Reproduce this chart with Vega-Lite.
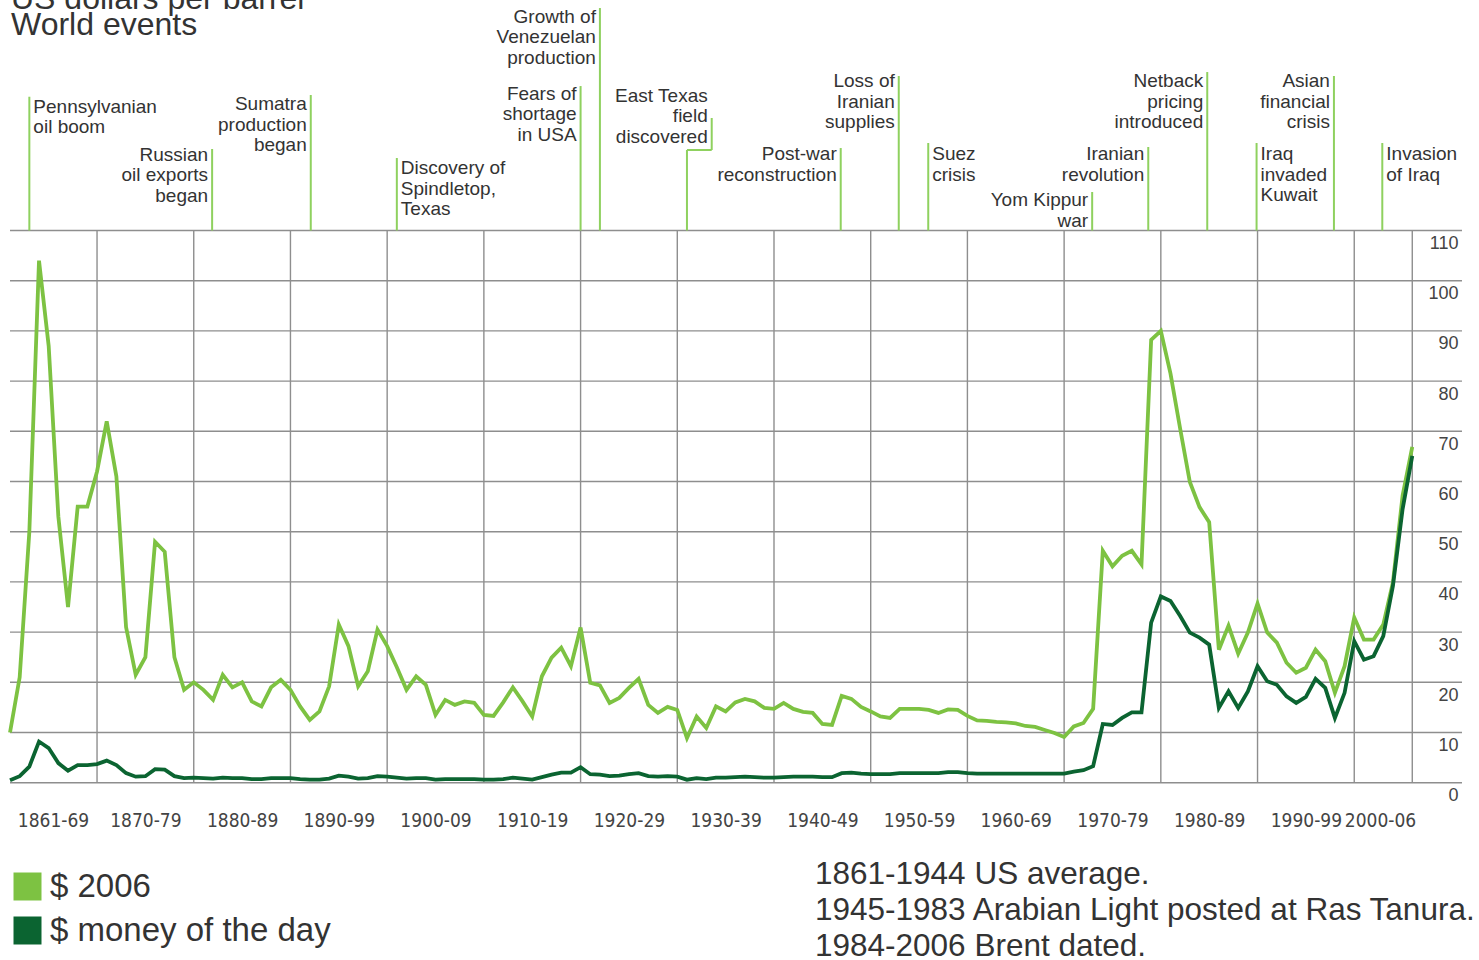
{
  "$schema": "https://vega.github.io/schema/vega-lite/v6.json",
  "width": 1469,
  "height": 960,
  "autosize": {"type": "none"},
  "padding": {"left": 10, "top": 0, "right": 0, "bottom": 0},
  "background": "white",
  "config": {"view": {"stroke": null}, "font": "Liberation Sans"},
  "datasets": {
    "prices": [
      {"year":1861,"real":10,"nominal":0.5},{"year":1862,"real":21,"nominal":1.3},{"year":1863,"real":50,"nominal":3.2},{"year":1864,"real":104,"nominal":8.2},{"year":1865,"real":87,"nominal":6.9},{"year":1866,"real":53,"nominal":3.9},{"year":1867,"real":35,"nominal":2.4},{"year":1868,"real":55,"nominal":3.5},{"year":1869,"real":55,"nominal":3.5},
      {"year":1870,"real":62,"nominal":3.7},{"year":1871,"real":72,"nominal":4.4},{"year":1872,"real":61,"nominal":3.5},{"year":1873,"real":31,"nominal":1.9},{"year":1874,"real":21.5,"nominal":1.2},{"year":1875,"real":25,"nominal":1.3},{"year":1876,"real":48,"nominal":2.7},{"year":1877,"real":46,"nominal":2.6},{"year":1878,"real":25,"nominal":1.3},{"year":1879,"real":18.5,"nominal":0.9},
      {"year":1880,"real":20,"nominal":1.0},{"year":1881,"real":18.5,"nominal":0.9},{"year":1882,"real":16.5,"nominal":0.8},{"year":1883,"real":21.5,"nominal":1.0},{"year":1884,"real":19,"nominal":0.9},{"year":1885,"real":20,"nominal":0.9},{"year":1886,"real":16.2,"nominal":0.7},{"year":1887,"real":15.2,"nominal":0.7},{"year":1888,"real":19,"nominal":0.9},{"year":1889,"real":20.5,"nominal":0.9},
      {"year":1890,"real":18.5,"nominal":0.9},{"year":1891,"real":15.2,"nominal":0.7},{"year":1892,"real":12.5,"nominal":0.6},{"year":1893,"real":14.2,"nominal":0.6},{"year":1894,"real":19.2,"nominal":0.8},{"year":1895,"real":31.5,"nominal":1.4},{"year":1896,"real":27.2,"nominal":1.2},{"year":1897,"real":19.2,"nominal":0.8},{"year":1898,"real":22.2,"nominal":0.9},{"year":1899,"real":30.5,"nominal":1.3},
      {"year":1900,"real":27.2,"nominal":1.2},{"year":1901,"real":23,"nominal":1.0},{"year":1902,"real":18.5,"nominal":0.8},{"year":1903,"real":21.2,"nominal":0.9},{"year":1904,"real":19.5,"nominal":0.9},{"year":1905,"real":13.5,"nominal":0.6},{"year":1906,"real":16.5,"nominal":0.7},{"year":1907,"real":15.5,"nominal":0.7},{"year":1908,"real":16.2,"nominal":0.7},{"year":1909,"real":15.9,"nominal":0.7},
      {"year":1910,"real":13.5,"nominal":0.6},{"year":1911,"real":13.3,"nominal":0.6},{"year":1912,"real":16,"nominal":0.7},{"year":1913,"real":19,"nominal":1.0},{"year":1914,"real":16.2,"nominal":0.8},{"year":1915,"real":13.2,"nominal":0.6},{"year":1916,"real":21.2,"nominal":1.1},{"year":1917,"real":24.9,"nominal":1.6},{"year":1918,"real":26.9,"nominal":2.0},{"year":1919,"real":23.2,"nominal":2.0},
      {"year":1920,"real":30.9,"nominal":3.1},{"year":1921,"real":19.9,"nominal":1.7},{"year":1922,"real":19.4,"nominal":1.6},{"year":1923,"real":15.9,"nominal":1.3},{"year":1924,"real":16.9,"nominal":1.4},{"year":1925,"real":18.9,"nominal":1.7},{"year":1926,"real":20.7,"nominal":1.9},{"year":1927,"real":15.5,"nominal":1.3},{"year":1928,"real":13.9,"nominal":1.2},{"year":1929,"real":15.1,"nominal":1.3},
      {"year":1930,"real":14.5,"nominal":1.2},{"year":1931,"real":8.9,"nominal":0.6},{"year":1932,"real":13.2,"nominal":0.9},{"year":1933,"real":10.9,"nominal":0.7},{"year":1934,"real":15.2,"nominal":1.0},{"year":1935,"real":14.2,"nominal":1.0},{"year":1936,"real":16,"nominal":1.1},{"year":1937,"real":16.7,"nominal":1.2},{"year":1938,"real":16.2,"nominal":1.1},{"year":1939,"real":14.9,"nominal":1.0},
      {"year":1940,"real":14.7,"nominal":1.0},{"year":1941,"real":15.9,"nominal":1.1},{"year":1942,"real":14.7,"nominal":1.2},{"year":1943,"real":14.1,"nominal":1.2},{"year":1944,"real":13.9,"nominal":1.2},{"year":1945,"real":11.7,"nominal":1.1},{"year":1946,"real":11.5,"nominal":1.1},{"year":1947,"real":17.3,"nominal":1.9},{"year":1948,"real":16.7,"nominal":2.0},{"year":1949,"real":15.1,"nominal":1.8},
      {"year":1950,"real":14.2,"nominal":1.7},{"year":1951,"real":13.2,"nominal":1.7},{"year":1952,"real":12.9,"nominal":1.7},{"year":1953,"real":14.7,"nominal":1.9},{"year":1954,"real":14.7,"nominal":1.9},{"year":1955,"real":14.7,"nominal":1.9},{"year":1956,"real":14.5,"nominal":1.9},{"year":1957,"real":13.9,"nominal":1.9},{"year":1958,"real":14.6,"nominal":2.1},{"year":1959,"real":14.5,"nominal":2.1},
      {"year":1960,"real":13.3,"nominal":1.9},{"year":1961,"real":12.4,"nominal":1.8},{"year":1962,"real":12.3,"nominal":1.8},{"year":1963,"real":12.1,"nominal":1.8},{"year":1964,"real":12,"nominal":1.8},{"year":1965,"real":11.8,"nominal":1.8},{"year":1966,"real":11.3,"nominal":1.8},{"year":1967,"real":11.1,"nominal":1.8},{"year":1968,"real":10.5,"nominal":1.8},{"year":1969,"real":9.9,"nominal":1.8},
      {"year":1970,"real":9.1,"nominal":1.8},{"year":1971,"real":11.2,"nominal":2.2},{"year":1972,"real":11.9,"nominal":2.5},{"year":1973,"real":14.7,"nominal":3.3},{"year":1974,"real":46.2,"nominal":11.7},{"year":1975,"real":43.1,"nominal":11.5},{"year":1976,"real":45.2,"nominal":12.9},{"year":1977,"real":46.2,"nominal":14.0},{"year":1978,"real":43.5,"nominal":14.0},{"year":1979,"real":88.2,"nominal":31.9},
      {"year":1980,"real":90,"nominal":37.1},{"year":1981,"real":81.5,"nominal":36.2},{"year":1982,"real":70.5,"nominal":33.2},{"year":1983,"real":59.9,"nominal":29.9},{"year":1984,"real":54.9,"nominal":28.9},{"year":1985,"real":51.9,"nominal":27.5},{"year":1986,"real":26.5,"nominal":14.9},{"year":1987,"real":31.3,"nominal":18.2},{"year":1988,"real":25.7,"nominal":14.9},{"year":1989,"real":29.9,"nominal":18.2},
      {"year":1990,"real":35.7,"nominal":23.2},{"year":1991,"real":29.9,"nominal":20.2},{"year":1992,"real":27.9,"nominal":19.5},{"year":1993,"real":23.9,"nominal":17.2},{"year":1994,"real":21.9,"nominal":15.9},{"year":1995,"real":22.9,"nominal":17.1},{"year":1996,"real":26.5,"nominal":20.7},{"year":1997,"real":24.2,"nominal":18.9},{"year":1998,"real":17.9,"nominal":12.9},{"year":1999,"real":23.2,"nominal":17.9},
      {"year":2000,"real":32.9,"nominal":28.2},{"year":2001,"real":28.5,"nominal":24.5},{"year":2002,"real":28.5,"nominal":25.2},{"year":2003,"real":31.5,"nominal":29.2},{"year":2004,"real":39.9,"nominal":39.2},{"year":2005,"real":57.2,"nominal":54.5},{"year":2006,"real":66.9,"nominal":65.1}
    ],
    "hgrid": [{"v":0},{"v":10},{"v":20},{"v":30},{"v":40},{"v":50},{"v":60},{"v":70},{"v":80},{"v":90},{"v":100},{"v":110}],
    "vgrid": [{"year":1870},{"year":1880},{"year":1890},{"year":1900},{"year":1910},{"year":1920},{"year":1930},{"year":1940},{"year":1950},{"year":1960},{"year":1970},{"year":1980},{"year":1990},{"year":2000},{"year":2006}],
    "eventLines": [
      {"x0":1863.0,"x1":1863.0,"y0":110,"y1":136.65},
      {"x0":1881.9,"x1":1881.9,"y0":110,"y1":126.24},
      {"x0":1892.1,"x1":1892.1,"y0":110,"y1":136.99},
      {"x0":1901.0,"x1":1901.0,"y0":110,"y1":124.44},
      {"x0":1922.0,"x1":1922.0,"y0":110,"y1":154.32},
      {"x0":1920.0,"x1":1920.0,"y0":110,"y1":138.78},
      {"x0":1931.0,"x1":1931.0,"y0":110,"y1":126.04},
      {"x0":1931.0,"x1":1933.56,"y0":126.04,"y1":126.04},
      {"x0":1933.56,"x1":1933.56,"y0":126.04,"y1":132.41},
      {"x0":1946.9,"x1":1946.9,"y0":110,"y1":126.43},
      {"x0":1952.9,"x1":1952.9,"y0":110,"y1":140.78},
      {"x0":1955.95,"x1":1955.95,"y0":110,"y1":127.43},
      {"x0":1972.9,"x1":1972.9,"y0":110,"y1":117.67},
      {"x0":1978.7,"x1":1978.7,"y0":110,"y1":126.64},
      {"x0":1984.8,"x1":1984.8,"y0":110,"y1":141.57},
      {"x0":1989.9,"x1":1989.9,"y0":110,"y1":127.43},
      {"x0":1997.9,"x1":1997.9,"y0":110,"y1":140.78},
      {"x0":2002.9,"x1":2002.9,"y0":110,"y1":127.43}
    ],
    "eventLabels": [
      {"year":1863.0,"base":133.41,"label":"Pennsylvanian|oil boom","side":"left"},
      {"year":1881.9,"base":123.9,"label":"Russian|oil exports|began","side":"right"},
      {"year":1892.1,"base":134.0,"label":"Sumatra|production|began","side":"right"},
      {"year":1901.0,"base":121.25,"label":"Discovery of|Spindletop,|Texas","side":"left"},
      {"year":1922.0,"base":151.39,"label":"Growth of|Venezuelan|production","side":"right"},
      {"year":1920.0,"base":136.0,"label":"Fears of|shortage|in USA","side":"right"},
      {"year":1933.56,"base":135.66,"label":"East Texas|field|discovered","side":"right"},
      {"year":1946.9,"base":124.04,"label":"Post-war|reconstruction","side":"right"},
      {"year":1952.9,"base":138.53,"label":"Loss of|Iranian|supplies","side":"right"},
      {"year":1955.95,"base":124.04,"label":"Suez|crisis","side":"left"},
      {"year":1972.9,"base":114.88,"label":"Yom Kippur|war","side":"right"},
      {"year":1978.7,"base":124.04,"label":"Iranian|revolution","side":"right"},
      {"year":1984.8,"base":138.53,"label":"Netback|pricing|introduced","side":"right"},
      {"year":1989.9,"base":124.04,"label":"Iraq|invaded|Kuwait","side":"left"},
      {"year":1997.9,"base":138.53,"label":"Asian|financial|crisis","side":"right"},
      {"year":2002.9,"base":124.04,"label":"Invasion|of Iraq","side":"left"}
    ],
    "titles": [
      {"year":1861,"v":154.12,"t":"US dollars per barrel"},
      {"year":1861,"v":148.94,"t":"World events"}
    ],
    "notes": [
      {"year":1944.24,"v":-20.18,"t":"1861-1944 US average.|1945-1983 Arabian Light posted at Ras Tanura.|1984-2006 Brent dated."}
    ]
  },
  "layer": [
    {
      "data": {"name": "hgrid"},
      "mark": {"type": "rule", "color": "#8e8e8e", "strokeWidth": 1.4},
      "encoding": {
        "y": {"field": "v", "type": "quantitative", "title": null},
        "x": {"datum": 1861, "type": "quantitative", "title": null},
        "x2": {"datum": 2011.14}
      }
    },
    {
      "data": {"name": "vgrid"},
      "mark": {"type": "rule", "color": "#8e8e8e", "strokeWidth": 1.4},
      "encoding": {
        "x": {"field": "year", "type": "quantitative", "title": null},
        "y": {"datum": 0, "type": "quantitative", "title": null},
        "y2": {"datum": 110}
      }
    },
    {
      "data": {"name": "eventLines"},
      "mark": {"type": "rule", "color": "#8fd15f", "strokeWidth": 2},
      "encoding": {
        "x": {"field": "x0", "type": "quantitative", "title": null},
        "x2": {"field": "x1"},
        "y": {"field": "y0", "type": "quantitative", "title": null},
        "y2": {"field": "y1"}
      }
    },
    {
      "data": {"name": "eventLabels"},
      "transform": [{"filter": "datum.side == 'left'"}],
      "mark": {"type": "text", "align": "left", "baseline": "alphabetic", "dx": 4, "fontSize": 19, "lineHeight": 20.5, "lineBreak": "|", "color": "#333333"},
      "encoding": {
        "x": {"field": "year", "type": "quantitative", "title": null},
        "y": {"field": "base", "type": "quantitative", "title": null},
        "text": {"field": "label"}
      }
    },
    {
      "data": {"name": "eventLabels"},
      "transform": [{"filter": "datum.side == 'right'"}],
      "mark": {"type": "text", "align": "right", "baseline": "alphabetic", "dx": -4, "fontSize": 19, "lineHeight": 20.5, "lineBreak": "|", "color": "#333333"},
      "encoding": {
        "x": {"field": "year", "type": "quantitative", "title": null},
        "y": {"field": "base", "type": "quantitative", "title": null},
        "text": {"field": "label"}
      }
    },
    {
      "data": {"name": "titles"},
      "mark": {"type": "text", "align": "left", "baseline": "alphabetic", "dx": 1, "fontSize": 32, "color": "#333333"},
      "encoding": {
        "x": {"field": "year", "type": "quantitative", "title": null},
        "y": {"field": "v", "type": "quantitative", "title": null},
        "text": {"field": "t"}
      }
    },
    {
      "data": {"name": "notes"},
      "mark": {"type": "text", "align": "left", "baseline": "alphabetic", "fontSize": 31.5, "lineHeight": 36, "lineBreak": "|", "color": "#333333"},
      "encoding": {
        "x": {"field": "year", "type": "quantitative", "title": null},
        "y": {"field": "v", "type": "quantitative", "title": null},
        "text": {"field": "t"}
      }
    },
    {
      "data": {"name": "prices"},
      "transform": [{"fold": ["real", "nominal"], "as": ["series", "price"]}],
      "mark": {"type": "line", "strokeWidth": 3.8, "strokeJoin": "miter"},
      "encoding": {
        "x": {
          "field": "year", "type": "quantitative", "title": null,
          "scale": {"domain": [1861, 2012.9], "nice": false, "zero": false},
          "axis": {
            "orient": "bottom", "offset": -149, "title": null,
            "values": [1865.45, 1875, 1885, 1895, 1905, 1915, 1925, 1935, 1945, 1955, 1965, 1975, 1985, 1995, 2002.66],
            "labelExpr": "datum.value < 1866 ? '1861-69' : datum.value > 2000 ? '2000-06' : (floor(datum.value/10)*10) + '-' + slice(toString(floor(datum.value/10)*10 + 9), 2)",
            "grid": false, "ticks": false, "domain": false, "labelPadding": 0,
            "labelFont": "'DejaVu Sans Condensed', 'Liberation Sans', sans-serif", "labelFontSize": 19, "labelColor": "#444444",
            "labelAlign": "center", "labelBaseline": "top", "labelOverlap": false, "labelBound": false, "labelFlush": false
          }
        },
        "y": {
          "field": "price", "type": "quantitative", "title": null,
          "scale": {"domain": [-35.32, 155.92], "nice": false, "zero": false},
          "axis": {
            "orient": "right", "offset": -21, "title": null,
            "values": [0, 10, 20, 30, 40, 50, 60, 70, 80, 90, 100, 110],
            "grid": false, "ticks": false, "domain": false, "labelPadding": 0,
            "labelAlign": "right", "labelBaseline": "top", "labelOffset": 4,
            "labelFontSize": 18, "labelColor": "#444444", "labelOverlap": false, "labelFlush": false
          }
        },
        "color": {
          "field": "series", "type": "nominal",
          "scale": {"domain": ["real", "nominal"], "range": ["#7dc242", "#0b6431"]},
          "legend": {
            "title": null, "orient": "none", "legendX": 1, "legendY": 870, "direction": "vertical",
            "symbolType": "square", "symbolSize": 784, "symbolStrokeWidth": 0,
            "labelFontSize": 33, "labelColor": "#333333", "labelOffset": 6, "rowPadding": 10, "padding": 0, "labelLimit": 600,
            "labelExpr": "datum.label == 'real' ? '$ 2006' : '$ money of the day'",
            "encode": {"symbols": {"update": {"fill": {"scale": "color", "field": "value"}, "fillOpacity": {"value": 1}, "strokeWidth": {"value": 0}}}}
          }
        }
      }
    }
  ]
}
